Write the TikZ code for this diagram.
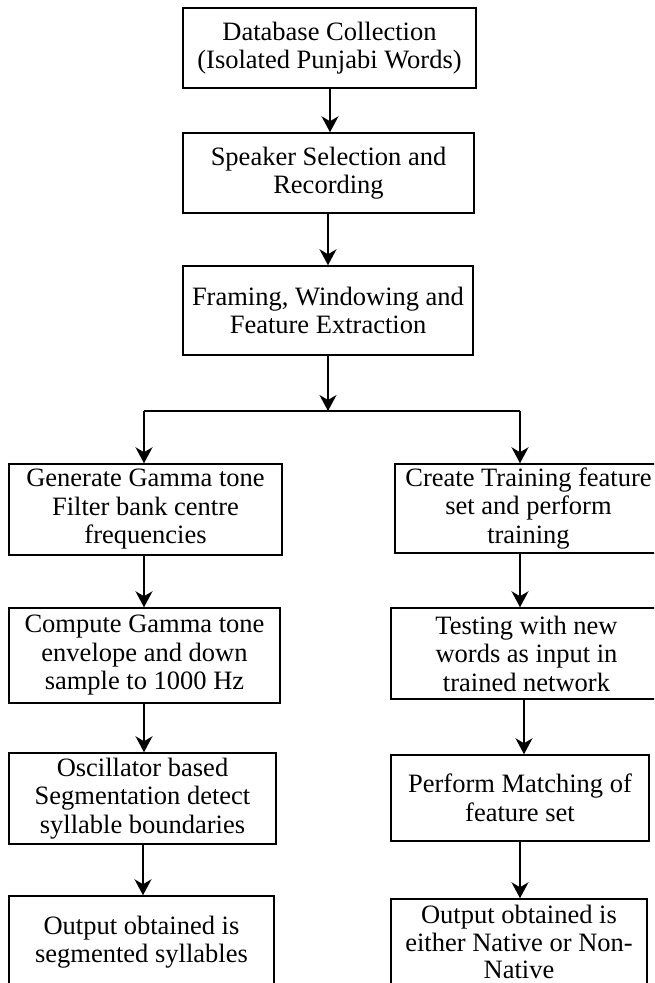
\documentclass[tikz,border=0pt]{standalone}
\usepackage{fontspec}
\setmainfont{Liberation Serif}
\usetikzlibrary{arrows.meta}

\begin{document}
\begin{tikzpicture}[x=1pt,y=-1pt,
    stage/.style={draw,line width=1.5pt,align=center,inner sep=0pt,
      font=\fontsize{26.5}{28.5}\selectfont},
    flow/.style={line width=1.5pt},
    arr/.style={flow,-{Stealth[length=16pt,width=17pt,inset=5pt]}}]
      \useasboundingbox (0,0) rectangle (654,983);
      \clip (0,0) rectangle (654,983);

      \node[stage,minimum width=293,minimum height=80] (db) at (329.5,48) {
        Database Collection\\(Isolated Punjabi Words)};
      \node[stage,minimum width=291,minimum height=80] (spk) at (328.5,173) {
        Speaker Selection and\\Recording};
      \node[stage,minimum width=290,minimum height=89] (frm) at (328,310.5) {
        Framing, Windowing and\\Feature Extraction};

      \node[stage,minimum width=273,minimum height=91] (gen) at (145.5,509.5) {
        Generate Gamma tone\\Filter bank centre\\frequencies};
      \node[stage,minimum width=271,minimum height=95] (cmp) at (144.5,655.5) {
        Compute Gamma tone\\envelope and down\\sample to 1000 Hz};
      \node[stage,minimum width=267,minimum height=91] (osc) at (142.5,798.5) {
        Oscillator based\\Segmentation detect\\syllable boundaries};
      \node[stage,minimum width=265,minimum height=92] (outl) at (141.5,942) {
        Output obtained is\\segmented syllables};

      \node[stage,minimum width=267,minimum height=89] (trn) at (528.5,508.5) {
        Create Training feature\\set and perform\\training};
      \node[stage,minimum width=271,minimum height=91] (tst) at (526.5,653.5) {
        Testing with new\\words as input in\\trained network};
      \node[stage,minimum width=258,minimum height=86] (mat) at (520,798) {
        Perform Matching of\\feature set};
      \node[stage,minimum width=256,minimum height=86,
        font=\fontsize{26.5}{27.5}\selectfont] (outr) at (519,942) {
        Output obtained is\\either Native or Non-\\Native};

      \coordinate (split) at (328,411);
      \coordinate (jl) at (144,411);
      \coordinate (jr) at (520,411);
      \coordinate (t1) at (524,0);
      \coordinate (c1) at (330,0);
      \coordinate (c2) at (143,0);

      \draw[arr] (c1 |- db.south) -- (c1 |- spk.north);
      \draw[arr] (split |- spk.south) -- (split |- frm.north);
      \draw[arr] (frm.south) -- (split);
      \draw[flow] (jl) -- (jr);
      \draw[arr] (jl) -- (jl |- gen.north);
      \draw[arr] (jr) -- (jr |- trn.north);

      \draw[arr] (jl |- gen.south) -- (jl |- cmp.north);
      \draw[arr] (jl |- cmp.south) -- (jl |- osc.north);
      \draw[arr] (c2 |- osc.south) -- (c2 |- outl.north);

      \draw[arr] (jr |- trn.south) -- (jr |- tst.north);
      \draw[arr] (t1 |- tst.south) -- (t1 |- mat.north);
      \draw[arr] (mat.south) -- (mat.south |- outr.north);
    \end{tikzpicture}
\end{document}
